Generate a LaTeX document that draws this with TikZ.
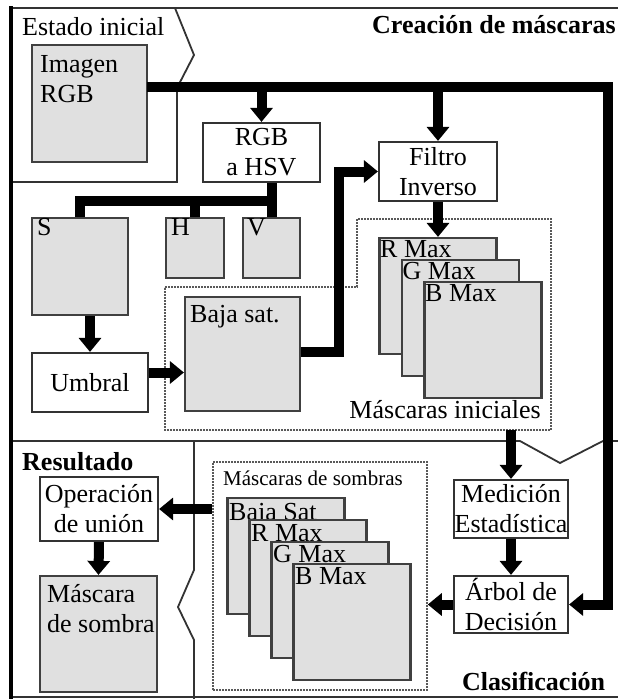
\documentclass[tikz,border=0pt]{standalone}
\usepackage{fontspec}
\setmainfont{Liberation Serif}
\usetikzlibrary{arrows.meta}
\begin{document}
\begin{tikzpicture}[x=1pt,y=-1pt,
  grayb/.style={draw=black!75, fill=black!12, line width=2.2pt, inner sep=0pt},
  whiteb/.style={draw=black!80, fill=white, line width=2.2pt, inner sep=0pt, align=center, font=\fontsize{26}{30}\selectfont},
  lbl/.style={anchor=base west, inner sep=0pt, font=\fontsize{26}{30}\selectfont},
  small/.style={anchor=base west, inner sep=0pt, font=\fontsize{21}{24}\selectfont},
  arr/.style={line width=10pt, -{Triangle[width=22pt,length=14pt]}, line join=miter},
  conn/.style={line width=10pt, line join=miter},
  region/.style={draw=black!80, line width=1.8pt},
  dotb/.style={draw=black!65, line width=1.6pt, dash pattern=on 1.6pt off 1.4pt}
]
\useasboundingbox (0,0) rectangle (618,699);
\fill[white] (0,0) rectangle (618,699);

% region borders
\draw[region] (11,8) -- (620,8);
\draw[region] (11,697) -- (620,697);
\draw[region] (175,8) -- (194,55) -- (177,88) -- (177,182) -- (11,182);
\draw[region] (11,441) -- (520,441) -- (560,463) -- (603,441) -- (620,441);
\draw[region] (194,441) -- (194,570) -- (178,607) -- (194,640) -- (194,699);
\draw[line width=4pt] (11,6) -- (11,699);

% region titles
\node[lbl] (tEst) at (22,35) {Estado inicial};
\node[lbl, font=\fontsize{26}{30}\selectfont\bfseries] (tCre) at (372,33) {Creación de máscaras};
\node[lbl, font=\fontsize{26}{30}\selectfont\bfseries] (tRes) at (22,470) {Resultado};
\node[lbl, font=\fontsize{26}{30}\selectfont\bfseries] (tCla) at (462,690) {Clasificación};

% dotted groups
\draw[dotb] (165,287) coordinate (d1) -- (357,287) -- (357,219) -- (551,219) -- (551,430) -- (165,430) -- cycle;
\node[lbl, anchor=base east] (tIni) at (541,418) {Máscaras iniciales};
\node[dotb, minimum width=214pt, minimum height=228pt, inner sep=0pt] (somb) at (320,576) {};
\node[small] (tSomb) at (223,485) {Máscaras de sombras};

% boxes: Estado inicial
\node[grayb, minimum width=115pt, minimum height=117pt] (img) at (89.5,103.5) {};
\node[lbl] (imgt1) at (40,72) {Imagen};
\node[lbl] (imgt2) at (40,102) {RGB};

% Creacion
\node[whiteb, minimum width=117pt, minimum height=59pt] (hsv) at (261.5,152.5) {RGB\\a HSV};
\node[whiteb, minimum width=118pt, minimum height=59pt] (filtro) at (438,171.5) {Filtro\\Inverso};
\node[grayb, minimum width=96pt, minimum height=97pt] (S) at (80,266.5) {};
\node[lbl] (St) at (37,235) {S};
\node[grayb, minimum width=58pt, minimum height=60pt] (H) at (195,248) {};
\node[lbl] (Ht) at (171,235) {H};
\node[grayb, minimum width=57pt, minimum height=60pt] (V) at (271.5,248) {};
\node[lbl] (Vt) at (247,235) {V};
\node[whiteb, minimum width=116pt, minimum height=59pt] (umbral) at (90,382.5) {Umbral};
\node[grayb, minimum width=115pt, minimum height=114pt] (baja) at (242.5,354) {};
\node[lbl] (bajat) at (190,322) {Baja sat.};

\node[grayb, minimum width=117pt, minimum height=116pt] (rmax) at (438,296) {};
\node[lbl] (rmaxt) at (380,257) {R Max};
\node[grayb, minimum width=117pt, minimum height=116pt] (gmax) at (460.5,318) {};
\node[lbl] (gmaxt) at (402.5,279) {G Max};
\node[grayb, minimum width=117pt, minimum height=116pt] (bmax) at (483,340) {};
\node[lbl] (bmaxt) at (425,301) {B Max};

% Clasificacion
\node[whiteb, minimum width=114pt, minimum height=58pt] (medic) at (511,509) {Medición\\Estadística};
\node[whiteb, minimum width=114pt, minimum height=57pt] (arbol) at (511,604.5) {Árbol de\\Decisión};

\node[grayb, minimum width=117pt, minimum height=116pt] (sbaja) at (286,556) {};
\node[lbl] (sbajat) at (229,520) {Baja Sat};
\node[grayb, minimum width=117pt, minimum height=116pt] (sr) at (308,578) {};
\node[lbl] (srt) at (251,541) {R Max};
\node[grayb, minimum width=117pt, minimum height=116pt] (sg) at (330,600) {};
\node[lbl] (sgt) at (273,562) {G Max};
\node[grayb, minimum width=117pt, minimum height=116pt] (sb) at (352,622) {};
\node[lbl] (sbt) at (295,584) {B Max};

% Resultado
\node[whiteb, minimum width=118pt, minimum height=64pt] (oper) at (99,509) {Operación\\de unión};
\node[grayb, minimum width=117pt, minimum height=116pt] (masc) at (98.5,634) {};
\node[lbl] (masct1) at (47,602) {Máscara};
\node[lbl] (masct2) at (47,632) {de sombra};

% connectors
\coordinate (imgout) at (147,87);
\coordinate (cTR) at (608,87);
\draw[arr] (imgout) -- (cTR) |- (arbol.east);
\draw[arr] (hsv.north |- imgout) -- (hsv.north);
\draw[arr] (filtro.north |- imgout) -- (filtro.north);

\coordinate (spl) at (271.5,201);
\draw[conn] (S.north) |- (spl) -- (V.north |- hsv.south);
\draw[conn] (spl) -- (V.north);
\draw[conn] (H.north) -- (H.north |- spl);

\coordinate (bjx) at (339,0);
\draw[arr] ([yshift=2pt]baja.east) -| (bjx |- filtro.west) -- (filtro.west);
\draw[arr] (filtro.south) -- (rmax.north);
\draw[arr] (umbral.north |- S.south) -- (umbral.north);
\draw[arr] ([yshift=10pt]umbral.east) -- ([yshift=10pt]umbral.east -| baja.west);

\coordinate (inibot) at (511,430);
\draw[arr] (inibot) -- (medic.north);
\draw[arr] (medic.south) -- (arbol.north);
\draw[arr] (arbol.west) -- (arbol.west -| somb.east);
\draw[arr] (somb.west |- oper.east) -- (oper.east);
\draw[arr] (oper.south) -- (masc.north);
\end{tikzpicture}
\end{document}
